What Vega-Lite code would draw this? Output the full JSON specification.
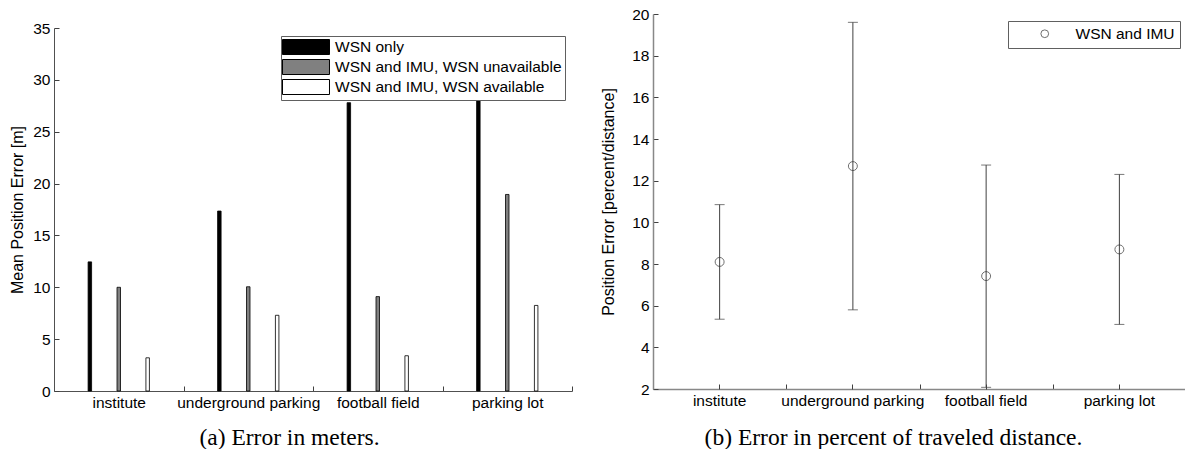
{
  "$schema": "https://vega.github.io/schema/vega-lite/v6.json",
  "background": "white",
  "padding": {"left": 9, "top": 7, "right": 0, "bottom": 0},
  "config": {
    "font": "Liberation Sans",
    "view": {"stroke": null},
    "axis": {
      "labelFont": "Liberation Sans", "labelFontSize": 15.5, "labelColor": "black",
      "titleFont": "Liberation Sans", "titleFontSize": 16, "titleFontWeight": "normal", "titleColor": "black",
      "grid": false, "tickSize": -5, "labelPadding": 9,
      "domainColor": "#505050", "tickColor": "#404040"
    },
    "legend": {
      "labelFont": "Liberation Sans", "labelFontSize": 15.5, "labelColor": "black", "labelLimit": 0,
      "strokeColor": "#606060", "fillColor": "white", "title": null
    }
  },
  "spacing": 27,
  "hconcat": [
    {
      "width": 518,
      "height": 377,
      "data": {"values": [
        {"location": "institute", "series": "WSN only", "value": 12.45},
        {"location": "institute", "series": "WSN and IMU, WSN unavailable", "value": 10.0},
        {"location": "institute", "series": "WSN and IMU, WSN available", "value": 3.2},
        {"location": "underground parking", "series": "WSN only", "value": 17.35},
        {"location": "underground parking", "series": "WSN and IMU, WSN unavailable", "value": 10.05},
        {"location": "underground parking", "series": "WSN and IMU, WSN available", "value": 7.3},
        {"location": "football field", "series": "WSN only", "value": 27.8},
        {"location": "football field", "series": "WSN and IMU, WSN unavailable", "value": 9.1},
        {"location": "football field", "series": "WSN and IMU, WSN available", "value": 3.4},
        {"location": "parking lot", "series": "WSN only", "value": 31},
        {"location": "parking lot", "series": "WSN and IMU, WSN unavailable", "value": 18.95},
        {"location": "parking lot", "series": "WSN and IMU, WSN available", "value": 8.25}
      ]},
      "mark": {"type": "bar", "width": 3.5, "stroke": "black", "strokeWidth": 0.8},
      "encoding": {
        "x": {
          "field": "location", "type": "nominal",
          "sort": ["institute", "underground parking", "football field", "parking lot"],
          "scale": {"paddingInner": 0, "paddingOuter": 0},
          "axis": {
            "labelAngle": 0, "tickBand": "extent",
            "title": "(a) Error in meters.",
            "titleFont": "Liberation Serif", "titleFontSize": 23.5,
            "titleX": 235, "titleY": 53, "titleBaseline": "alphabetic", "titleAlign": "center", "titleAnchor": null
          }
        },
        "xOffset": {
          "field": "series", "type": "nominal",
          "sort": ["WSN only", "WSN and IMU, WSN unavailable", "WSN and IMU, WSN available"],
          "scale": {"paddingInner": 0, "paddingOuter": 0.74}
        },
        "y": {
          "field": "value", "type": "quantitative",
          "scale": {"domain": [0, 35], "nice": false, "range": [377, 14]},
          "axis": {"values": [0, 5, 10, 15, 20, 25, 30, 35], "title": "Mean Position Error [m]", "titlePadding": 7}
        },
        "fill": {
          "field": "series", "type": "nominal",
          "sort": ["WSN only", "WSN and IMU, WSN unavailable", "WSN and IMU, WSN available"],
          "scale": {"range": ["black", "#808080", "white"]},
          "legend": {
            "orient": "none", "legendX": 227, "legendY": 22,
            "symbolType": "M-3.133,-1L3.133,-1L3.133,1L-3.133,1Z",
            "symbolSize": 225, "symbolStrokeColor": "black", "symbolStrokeWidth": 1,
            "symbolOffset": 14, "labelOffset": 21, "rowPadding": 0, "padding": 3
          }
        }
      }
    },
    {
      "width": 533,
      "height": 375,
      "data": {"values": [
        {"location": "institute", "series": "WSN and IMU", "mean": 8.1, "lo": 5.35, "hi": 10.85},
        {"location": "underground parking", "series": "WSN and IMU", "mean": 12.7, "lo": 5.8, "hi": 19.6},
        {"location": "football field", "series": "WSN and IMU", "mean": 7.42, "lo": 2.08, "hi": 12.75},
        {"location": "parking lot", "series": "WSN and IMU", "mean": 8.7, "lo": 5.1, "hi": 12.3}
      ]},
      "layer": [
        {
          "mark": {"type": "errorbar", "ticks": {"size": 10, "color": "#404040"}, "rule": {"color": "#404040"}},
          "encoding": {
            "x": {
              "field": "location", "type": "nominal",
              "sort": ["institute", "underground parking", "football field", "parking lot"],
              "scale": {"paddingInner": 0, "paddingOuter": 0},
              "axis": {"orient": "bottom", "tickBand": "extent", "labels": false, "title": null, "domainColor": "#888888", "domainWidth": 1.5}
            },
            "y": {
              "field": "lo", "type": "quantitative",
              "scale": {"domain": [2, 20], "nice": false},
              "axis": {"values": [2, 4, 6, 8, 10, 12, 14, 16, 18, 20], "title": "Position Error [percent/distance]", "titlePadding": 15, "domainColor": "#888888", "domainWidth": 1.5}
            },
            "y2": {"field": "hi"}
          }
        },
        {
          "mark": {"type": "point", "shape": "circle", "filled": false, "size": 80, "color": "#333333", "strokeWidth": 1},
          "encoding": {
            "x": {
              "field": "location", "type": "nominal",
              "sort": ["institute", "underground parking", "football field", "parking lot"],
              "axis": {
                "orient": "bottom", "labelAngle": 0, "domain": false,
                "title": "(b) Error in percent of traveled distance.",
                "titleFont": "Liberation Serif", "titleFontSize": 23.5,
                "titleX": 240, "titleY": 55, "titleBaseline": "alphabetic", "titleAlign": "center", "titleAnchor": null
              }
            },
            "y": {"field": "mean", "type": "quantitative"},
            "shape": {
              "field": "series", "type": "nominal",
              "scale": {"range": ["circle"]},
              "legend": {
                "orient": "none", "legendX": 954, "legendY": 7,
                "symbolSize": 60, "symbolStrokeColor": "#333333", "symbolStrokeWidth": 1,
                "symbolOffset": 24, "labelOffset": 23, "padding": 5
              }
            }
          }
        }
      ],
      "resolve": {"axis": {"x": "independent"}}
    }
  ]
}
